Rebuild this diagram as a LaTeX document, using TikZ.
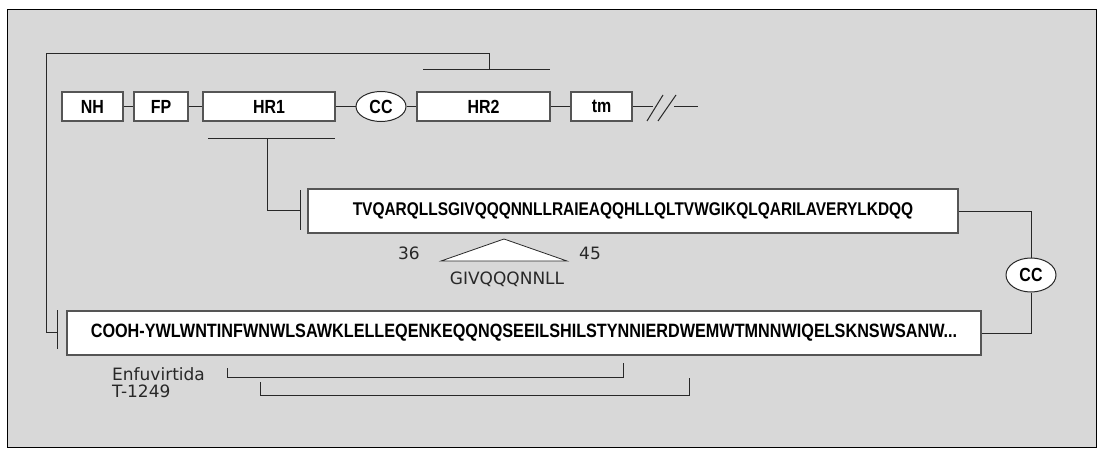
\documentclass[tikz,border=0pt]{standalone}
\usepackage{fontspec}
\setmainfont{DejaVu Sans}
\newfontfamily\seqfont{Liberation Sans}[FakeStretch=0.84]
\usepackage{tikz}
\usetikzlibrary{shapes.geometric}
\definecolor{fondgris}{RGB}{216,216,216}
\definecolor{bordgris}{RGB}{85,85,85}
\definecolor{traitnoir}{RGB}{40,40,40}

\begin{document}
\begin{tikzpicture}[x=1pt, y=-1pt,
  trait/.style={traitnoir, line width=1pt},
  domaine/.style={draw=bordgris, line width=1.3pt, fill=white, inner sep=0pt,
    minimum height=29pt, font={\seqfont\bfseries\fontsize{19pt}{19pt}\selectfont}},
  boucle/.style={ellipse, draw=traitnoir, line width=1pt, fill=white, inner sep=0pt,
    minimum width=50pt, minimum height=30pt, font={\seqfont\bfseries\fontsize{19pt}{19pt}\selectfont}},
  sequence/.style={draw=bordgris, line width=1.3pt, fill=white, inner sep=0pt,
    minimum height=44pt, font={\seqfont\bfseries\fontsize{18.4pt}{18.4pt}\selectfont}},
  etiquette/.style={inner sep=0pt, text=traitnoir, font={\fontsize{17pt}{17pt}\selectfont}}]

  % Fond
  \useasboundingbox (0,0) rectangle (1104,452);
  \draw[fill=fondgris, line width=1pt] (7,10) rectangle (1096,447);

  % Domaines de gp41
  \node[domaine, minimum width=61pt] (nh) at (92.5,106.5) {NH};
  \node[domaine, minimum width=54pt] (fp) at (161,106.5) {FP};
  \node[domaine, minimum width=132pt] (hrun) at (269,106.5) {HR1};
  \node[boucle] (cc) at (381,106.5) {CC};
  \node[domaine, minimum width=133pt] (hrdeux) at (483.5,106.5) {HR2};
  \node[domaine, minimum width=61pt] (tm) at (601.5,106.5) {tm};
  \coordinate (coupa) at (653,106.5);
  \coordinate (coupb) at (674,106.5);
  \coordinate (fin) at (698,106.5);
  \draw[trait] (nh) -- (fp);
  \draw[trait] (fp) -- (hrun);
  \draw[trait] (hrun) -- (cc);
  \draw[trait] (cc) -- (hrdeux);
  \draw[trait] (hrdeux) -- (tm);
  \draw[trait] (tm) -- (coupa);
  \draw[trait] (coupb) -- (fin);
  \draw[trait] (647,121) -- (663,95);
  \draw[trait] (658,121) -- (676,95);

  % Sequences HR1 et HR2
  \node[sequence, minimum width=650pt] (seqa) at (633,211)
    {TVQARQLLSGIVQQQNNLLRAIEAQQHLLQLTVWGIKQLQARILAVERYLKDQQ};
  \node[sequence, minimum width=914pt, font={\seqfont\bfseries\fontsize{19.3pt}{19.3pt}\selectfont}] (seqb) at (524,333)
    {COOH-YWLWNTINFWNWLSAWKLELLEQENKEQQNQSEEILSHILSTYNNIERDWEMWTMNNWIQELSKNSWSANW...};
  \node[boucle, minimum height=34pt] (cctwo) at (1031,275) {CC};
  \draw[trait] (seqa) -| (cctwo);
  \draw[trait] (cctwo) |- (seqb);

  % Renvois
  \coordinate (hrung) at (208,138);
  \coordinate (hrund) at (335,138);
  \coordinate (hrunm) at (267,138);
  \coordinate (buta) at (300,210);
  \draw[trait] (hrung) -- (hrund);
  \draw[trait] (hrunm) |- (buta);
  \draw[trait] (300,190) -- (300,230);

  \coordinate (hrdeuxg) at (423,70);
  \coordinate (hrdeuxd) at (550,70);
  \coordinate (hrdeuxm) at (489,70);
  \coordinate (butb) at (57,332);
  \draw[trait] (hrdeuxg) -- (hrdeuxd);
  \draw[trait] (hrdeuxm) |- (46,54) |- (butb);
  \draw[trait] (57,310) -- (57,349);

  % Motif 36-45
  \draw[fill=white, line width=0.8pt, draw=traitnoir] (504,239) -- (441,261) -- (567,261) -- cycle;
  \node[etiquette] (posa) at (409,253) {36};
  \node[etiquette] (posb) at (590,253) {45};
  \node[etiquette] (motif) at (507,279) {GIVQQQNNLL};

  % Peptides inhibiteurs
  \draw[trait] (227,368) -- (227,377) -- (623,377) -- (623,363);
  \draw[trait] (260,382) -- (260,395) -- (689,395) -- (689,378);
  \node[etiquette, anchor=base west] (enf) at (112,380) {Enfuvirtida};
  \node[etiquette, anchor=base west] (tmil) at (112,397) {T-1249};
\end{tikzpicture}
\end{document}
